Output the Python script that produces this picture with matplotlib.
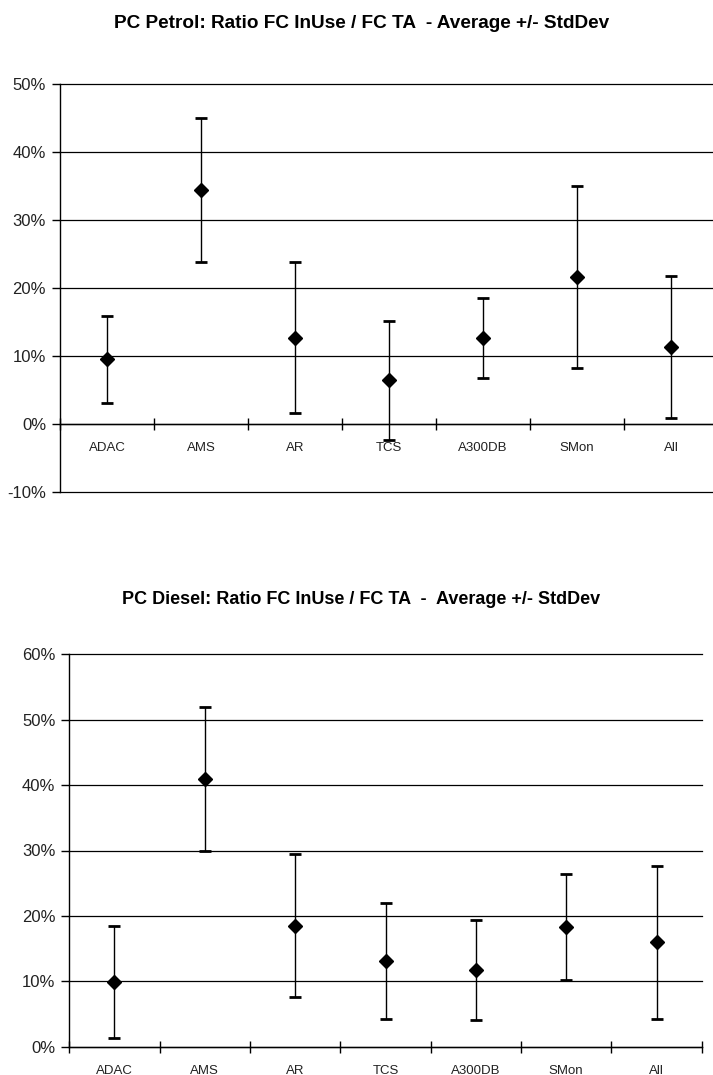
import matplotlib
matplotlib.use("Agg")
import matplotlib.pyplot as plt
from matplotlib.ticker import FixedLocator, PercentFormatter
import numpy as np

plt.rcParams["axes.unicode_minus"] = False

categories = ["ADAC", "AMS", "AR", "TCS", "A300DB", "SMon", "All"]

petrol_mean = [9.5, 34.5, 12.7, 6.4, 12.7, 21.6, 11.3]
petrol_std = [6.4, 10.6, 11.1, 8.8, 5.9, 13.4, 10.5]

diesel_mean = [9.9, 41.0, 18.5, 13.1, 11.7, 18.3, 16.0]
diesel_std = [8.6, 11.0, 10.9, 8.9, 7.6, 8.1, 11.7]

petrol_title = "PC Petrol: Ratio FC InUse / FC TA  - Average +/- StdDev"
diesel_title = "PC Diesel: Ratio FC InUse / FC TA  -  Average +/- StdDev"

W, H = 713, 1075
fig = plt.figure(figsize=(W / 100, H / 100), dpi=100)

label_font = ["Liberation Sans", "DejaVu Sans"]
title_font = ["Liberation Sans", "DejaVu Sans"]


def px_axes(left, top, right, bottom):
    return fig.add_axes([left / W, 1 - bottom / H, (right - left) / W, (bottom - top) / H])


def draw(ax, means, stds, ymin, ymax):
    n = len(categories)
    x = np.arange(n) + 0.5
    ax.set_xlim(0, n)
    ax.set_ylim(ymin, ymax)
    yt = np.arange(ymin, ymax + 1, 10)
    ax.yaxis.set_major_locator(FixedLocator(yt))
    ax.yaxis.set_major_formatter(PercentFormatter(decimals=0))
    for y in yt:
        ax.axhline(y, color="black", lw=0.9, zorder=1, clip_on=False)
    ax.errorbar(x, means, yerr=stds, fmt="none", ecolor="black", elinewidth=1.0,
                capsize=4.5, capthick=2.0, zorder=3, clip_on=False)
    ax.plot(x, means, linestyle="none", marker="D", ms=6.8, color="black", zorder=4,
            clip_on=False)
    for s in ["top", "right"]:
        ax.spines[s].set_visible(False)
    ax.spines["bottom"].set_position(("data", 0))
    ax.spines["bottom"].set_linewidth(1.0)
    ax.spines["left"].set_linewidth(1.0)
    ax.set_xticks(np.arange(n + 1))
    ax.set_xticklabels([])
    ax.set_xticks(x, minor=True)
    ax.set_xticklabels(categories, minor=True)
    ax.tick_params(axis="x", which="major", direction="inout", length=8, width=1.0)
    ax.tick_params(axis="x", which="minor", length=0, pad=13, labelsize=9.5)
    ax.tick_params(axis="y", direction="out", length=6, width=1.0, pad=4, labelsize=12)
    for lab in ax.get_xticklabels(minor=True) + ax.get_yticklabels():
        lab.set_family(label_font)
        lab.set_color("#222222")


ax1 = px_axes(60, 84.3, 718, 491.7)
draw(ax1, petrol_mean, petrol_std, -10, 50)

ax2 = px_axes(69.3, 654.3, 701.7, 1046.7)
draw(ax2, diesel_mean, diesel_std, 0, 60)

fig.text(362 / W, 1 - 23 / H, petrol_title, ha="center", va="center",
         fontsize=13.7, fontweight="bold", family=title_font)
fig.text(361 / W, 1 - 599 / H, diesel_title, ha="center", va="center",
         fontsize=13.0, fontweight="bold", family=title_font)

fig.savefig("out.png", dpi=100)
